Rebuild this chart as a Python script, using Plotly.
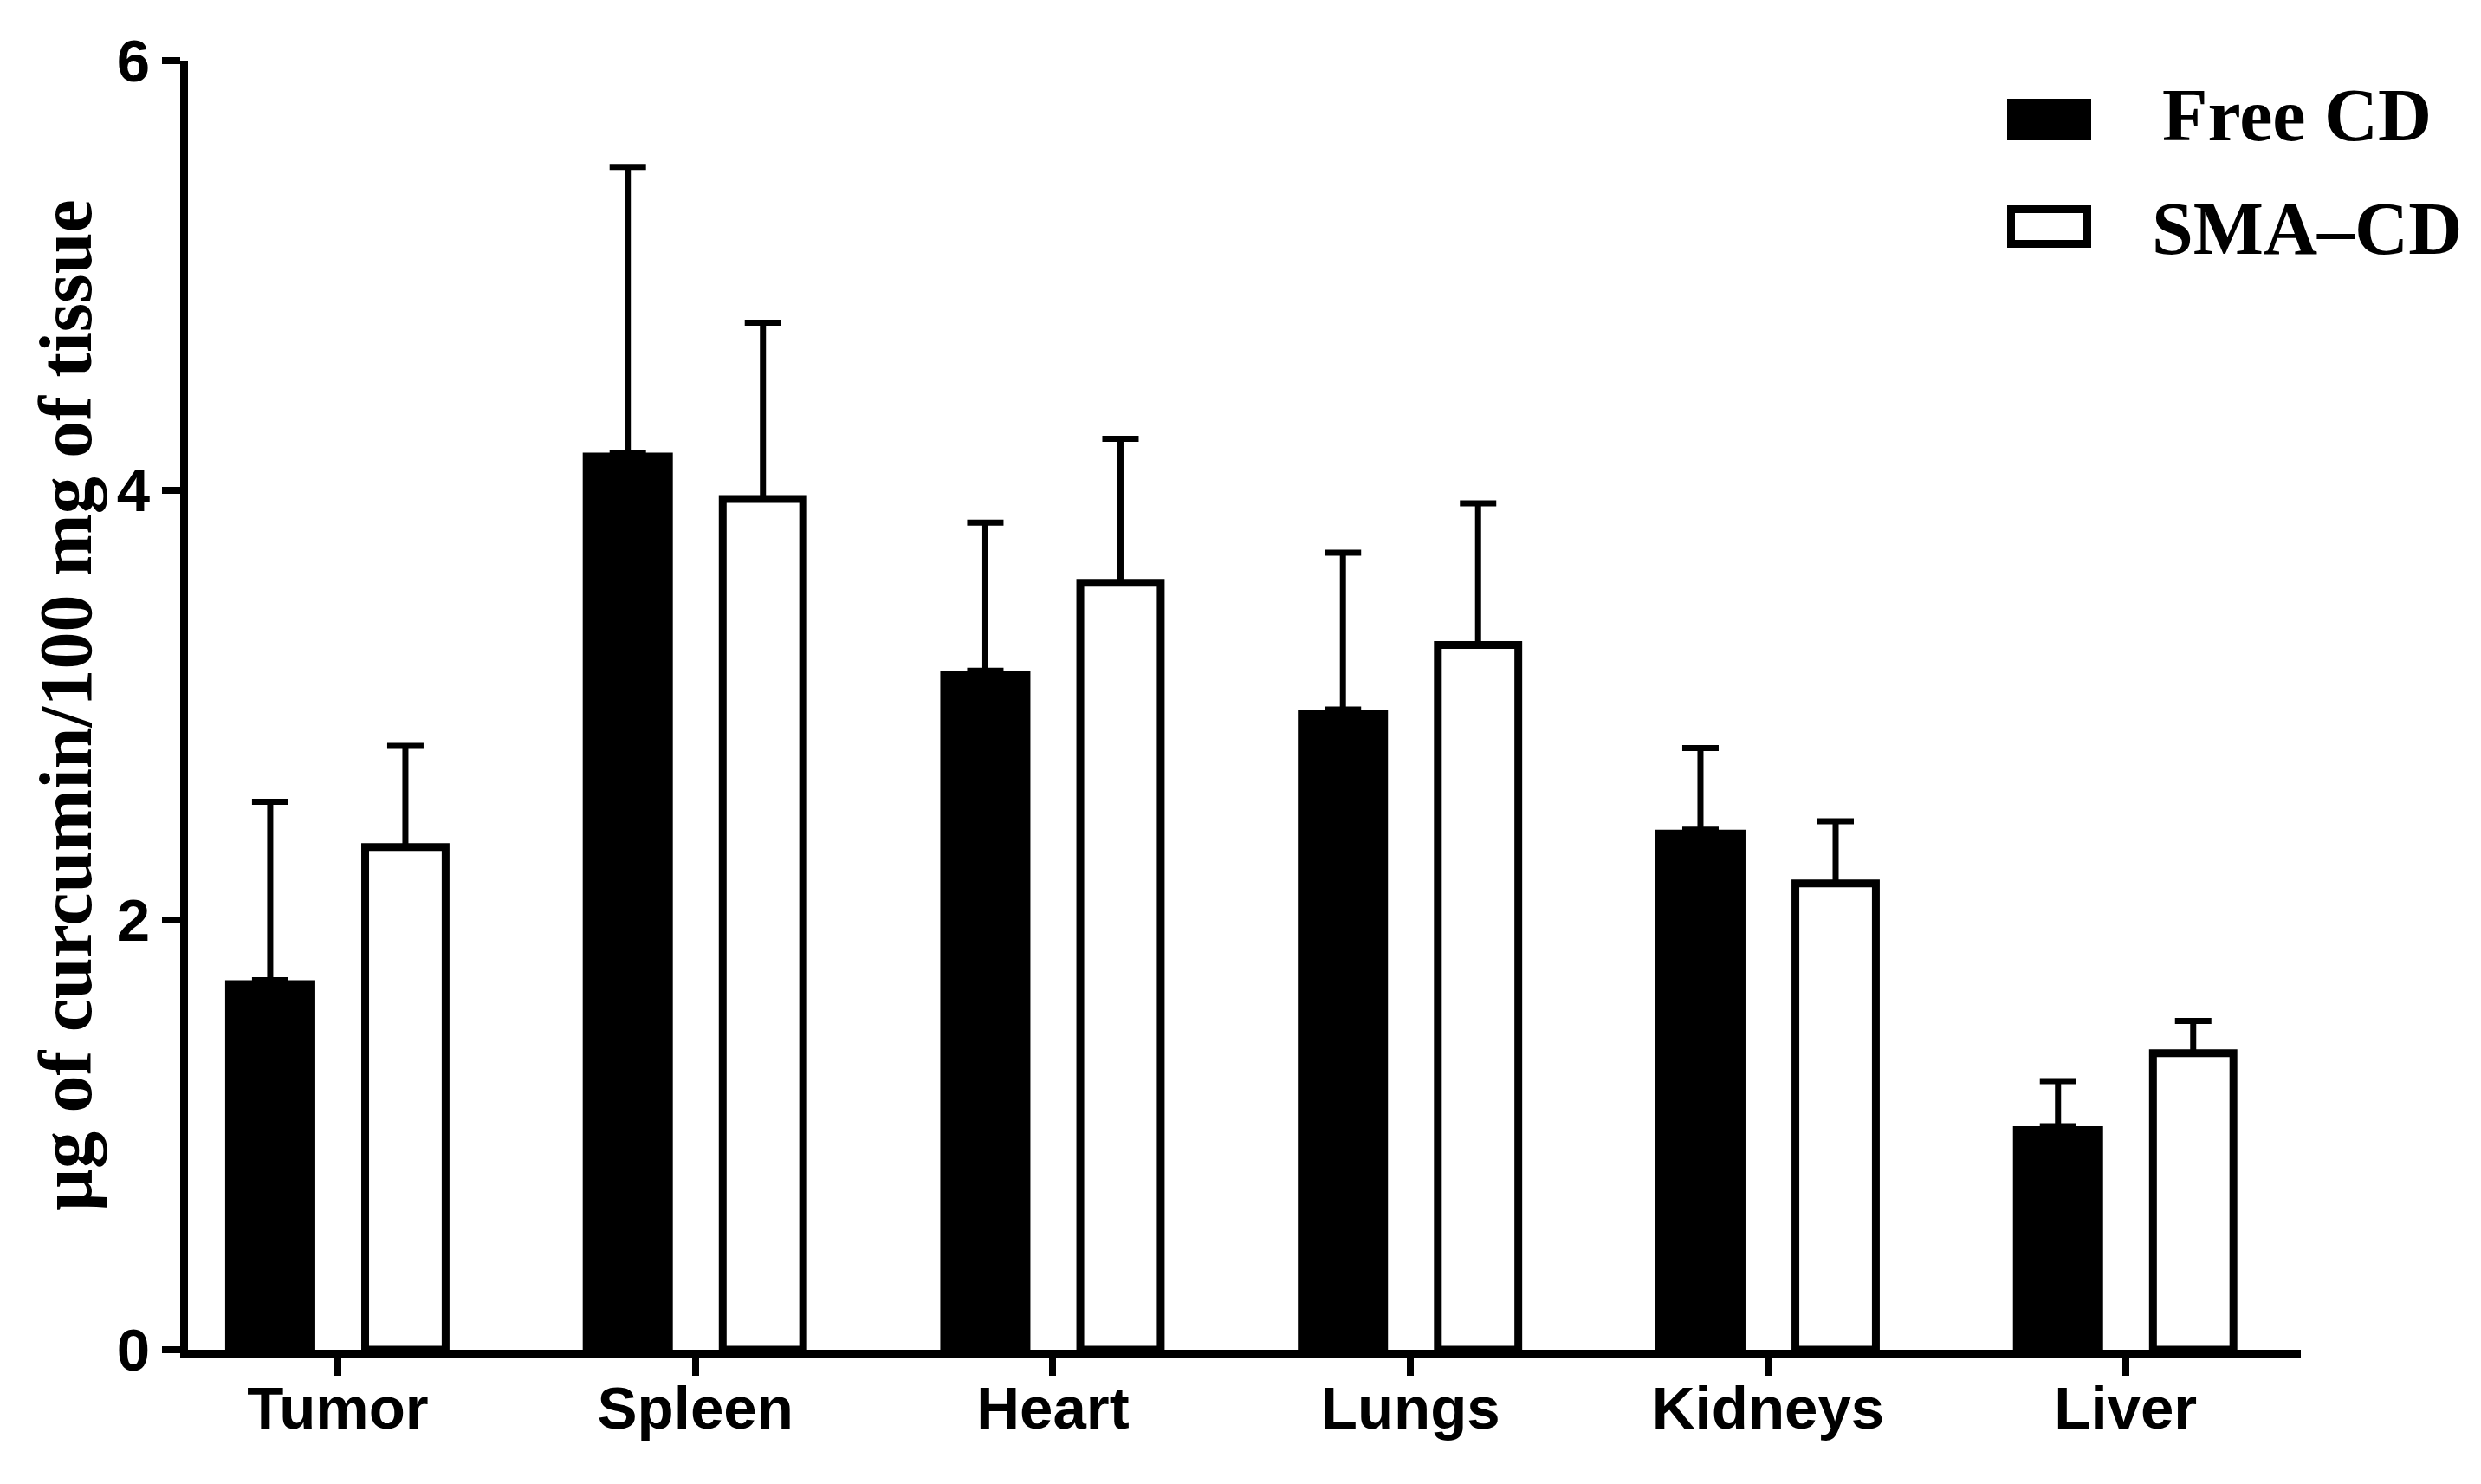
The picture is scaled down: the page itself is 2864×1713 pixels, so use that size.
import plotly.graph_objects as go

organs = ["Tumor", "Spleen", "Heart", "Lungs", "Kidneys", "Liver"]
series_names = ["Free CD", "SMA\u2013CD"]
free_cd = [1.72, 4.175, 3.16, 2.98, 2.42, 1.04]
free_cd_err = [0.83, 1.33, 0.69, 0.73, 0.38, 0.21]
sma_cd = [2.34, 3.96, 3.57, 3.28, 2.17, 1.38]
sma_cd_err = [0.47, 0.82, 0.67, 0.66, 0.29, 0.15]
y_ticks = [0, 2, 4, 6]
y_title = "\u03bcg of curcumin/100 mg of tissue"

W, H = 2864, 1713
L, R, T, B = 209, 216, 62, 163
pw, ph = W - L - R, H - T - B

def px_x(p):
    return (p - L) / pw

def px_y(p):
    return (H - B - p) / ph

fig = go.Figure()
fig.add_bar(
    x=organs, y=free_cd, name=series_names[0],
    width=0.252, offset=-0.315,
    marker=dict(color="black", line=dict(color="black", width=0)),
    error_y=dict(type="data", array=free_cd_err, arrayminus=[0] * len(free_cd),
                 symmetric=False, color="black", thickness=7, width=21),
)
fig.add_bar(
    x=organs, y=sma_cd, name=series_names[1],
    width=0.225, offset=0.0765,
    marker=dict(color="white", line=dict(color="black", width=9)),
    error_y=dict(type="data", array=sma_cd_err, arrayminus=[0] * len(sma_cd),
                 symmetric=False, color="black", thickness=7, width=21),
)

axis_common = dict(
    showline=True, linewidth=9, linecolor="black",
    ticks="outside", ticklen=21, tickwidth=8, tickcolor="black",
    showgrid=False, zeroline=False, automargin=False,
    tickfont=dict(family="Liberation Sans, Arial", size=69, color="black", weight="bold"),
)

fig.update_layout(
    width=W, height=H,
    margin=dict(l=L, r=R, t=T, b=B, autoexpand=False),
    paper_bgcolor="white", plot_bgcolor="white",
    barmode="overlay",
    showlegend=False,
    xaxis=dict(range=[-0.419, 5.49], ticklabelstandoff=-22, **axis_common),
    yaxis=dict(range=[0, 6], tickvals=y_ticks, ticktext=[str(v) for v in y_ticks],
               title=dict(text=y_title, standoff=4,
                          font=dict(family="Liberation Serif, Times New Roman", size=86,
                                    color="black", weight="bold")),
               **axis_common),
)

# manual legend
fig.add_shape(type="rect", xref="paper", yref="paper",
              x0=px_x(2309), x1=px_x(2406), y0=px_y(154), y1=px_y(106),
              fillcolor="black", line=dict(color="black", width=0))
fig.add_shape(type="rect", xref="paper", yref="paper",
              x0=px_x(2313.5), x1=px_x(2401.5), y0=px_y(273.5), y1=px_y(233.5),
              fillcolor="white", line=dict(color="black", width=9))
legend_font = dict(family="Liberation Serif, Times New Roman", size=86, color="black", weight="bold")
fig.add_annotation(text=series_names[0], xref="paper", yref="paper",
                   x=px_x(2486), y=px_y(125), xanchor="left", yanchor="middle",
                   showarrow=False, font=legend_font)
fig.add_annotation(text=series_names[1], xref="paper", yref="paper",
                   x=px_x(2474), y=px_y(256), xanchor="left", yanchor="middle",
                   showarrow=False, font=legend_font)

fig.write_html("out.html")
